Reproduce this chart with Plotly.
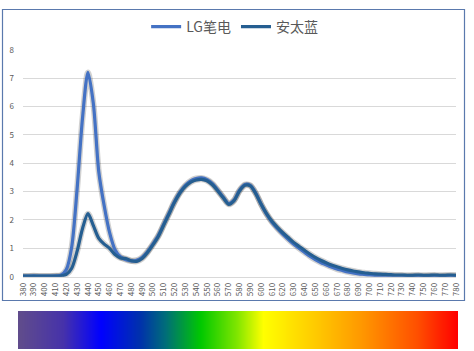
import plotly.graph_objects as go

wavelength = list(range(380, 785, 5))

lg_values = [
    0.02, 0.02, 0.03, 0.02, 0.02, 0.02, 0.03, 0.05, 0.25, 1.05,   # 380-425
    3.10, 5.60, 7.20, 6.10, 3.70, 2.50, 1.55, 0.95, 0.70, 0.60,   # 430-475
    0.56, 0.58, 0.68, 0.88, 1.15, 1.45, 1.85, 2.25, 2.65, 2.98,   # 480-525
    3.22, 3.38, 3.46, 3.48, 3.42, 3.28, 3.05, 2.80, 2.58, 2.70,   # 530-575
    3.05, 3.25, 3.22, 2.95, 2.55, 2.20, 1.92, 1.70, 1.50, 1.32,   # 580-625
    1.15, 1.00, 0.86, 0.72, 0.60, 0.50, 0.42, 0.34, 0.27, 0.22,   # 630-675
    0.17, 0.13, 0.10, 0.08, 0.06, 0.05, 0.04, 0.04, 0.03, 0.03,   # 680-725
    0.03, 0.02, 0.03, 0.03, 0.02, 0.03, 0.03, 0.02, 0.03, 0.03,   # 730-775
    0.03,                                                          # 780
]

atl_values = [
    0.02, 0.02, 0.02, 0.02, 0.02, 0.02, 0.02, 0.03, 0.08, 0.30,   # 380-425
    0.90, 1.70, 2.22, 1.80, 1.35, 1.15, 1.00, 0.78, 0.66, 0.64,   # 430-475
    0.56, 0.54, 0.64, 0.85, 1.12, 1.42, 1.82, 2.22, 2.62, 2.95,   # 480-525
    3.18, 3.33, 3.41, 3.43, 3.38, 3.24, 3.02, 2.78, 2.55, 2.68,   # 530-575
    3.02, 3.22, 3.20, 2.93, 2.55, 2.22, 1.95, 1.74, 1.55, 1.38,   # 580-625
    1.21, 1.07, 0.93, 0.80, 0.68, 0.58, 0.49, 0.41, 0.35, 0.29,   # 630-675
    0.24, 0.20, 0.17, 0.14, 0.12, 0.10, 0.09, 0.08, 0.07, 0.06,   # 680-725
    0.06, 0.05, 0.05, 0.06, 0.05, 0.05, 0.06, 0.05, 0.05, 0.06,   # 730-775
    0.05,                                                          # 780
]

series_names = ["LG笔电", "安太蓝"]
series_colors = ["#4472C4", "#255E91"]
y_ticks = list(range(0, 9))
x_ticks = list(range(380, 790, 10))

# spectrum bar colour stops
spectrum_stops = [
    (0.00, "rgb(96,76,140)"),
    (0.10, "rgb(70,50,170)"),
    (0.186, "rgb(0,0,255)"),
    (0.277, "rgb(0,50,170)"),
    (0.334, "rgb(0,110,120)"),
    (0.414, "rgb(0,200,0)"),
    (0.498, "rgb(130,230,0)"),
    (0.557, "rgb(255,255,0)"),
    (0.68, "rgb(255,200,0)"),
    (0.784, "rgb(255,150,0)"),
    (0.907, "rgb(255,80,0)"),
    (1.00, "rgb(255,0,0)"),
]
spectrum_z = [list(range(220))]

W, H = 474, 351

fig = go.Figure()

# soft shadows
for vals in (lg_values, atl_values):
    fig.add_trace(go.Scatter(
        x=wavelength, y=vals, mode="lines", line=dict(color="rgba(0,0,0,0.18)", width=6, shape="spline", smoothing=0.8),
        showlegend=False, hoverinfo="skip"))

for name, vals, col in zip(series_names, [lg_values, atl_values], series_colors):
    fig.add_trace(go.Scatter(
        x=wavelength, y=vals, mode="lines", name=name,
        line=dict(color=col, width=3.2, shape="spline", smoothing=0.8)))

fig.add_trace(go.Heatmap(
    z=spectrum_z, colorscale=[[p, c] for p, c in spectrum_stops],
    showscale=False, xaxis="x2", yaxis="y2", hoverinfo="skip", zsmooth="best"))

fig.update_layout(
    width=W, height=H,
    margin=dict(l=0, r=0, t=0, b=0),
    paper_bgcolor="white", plot_bgcolor="white",
    font=dict(family="Noto Sans CJK SC, DejaVu Sans, sans-serif", color="#595959"),
    showlegend=True,
    legend=dict(orientation="h", x=0.495, xanchor="center", y=1 - 27 / H, yanchor="middle",
                font=dict(size=14, color="#595959"), itemwidth=30, traceorder="normal",
                bgcolor="rgba(0,0,0,0)"),
    xaxis=dict(domain=[23 / W, 456 / W], range=[380, 780], tickmode="array", tickvals=x_ticks,
               ticktext=[str(v) for v in x_ticks], tickangle=-90, tickfont=dict(size=8, color="#595959"),
               showgrid=False, zeroline=False, showline=True, linecolor="#d9d9d9", linewidth=1,
               ticks="", ticklabelstandoff=2, automargin=False, fixedrange=True),
    yaxis=dict(domain=[(H - 276.7) / H, (H - 49.7) / H], range=[0, 8], tickmode="array", tickvals=y_ticks,
               tickfont=dict(size=8, color="#595959"), showgrid=True, gridcolor="#d9d9d9", gridwidth=1,
               zeroline=False, showline=False, ticks="", ticklabelstandoff=8, automargin=False, fixedrange=True),
    xaxis2=dict(domain=[18 / W, 458 / W], anchor="y2", visible=False, range=[-0.5, 219.5]),
    yaxis2=dict(domain=[(H - 349) / H, (H - 311) / H], anchor="x2", visible=False, range=[-0.5, 0.5]),
    shapes=[dict(type="rect", xref="paper", yref="paper", x0=2.5 / W, x1=464.5 / W,
                 y0=(H - 300.5) / H, y1=(H - 9.5) / H, line=dict(color="#5a79ad", width=1.2),
                 fillcolor="rgba(0,0,0,0)", layer="below")],
)

fig.write_html("out.html")
